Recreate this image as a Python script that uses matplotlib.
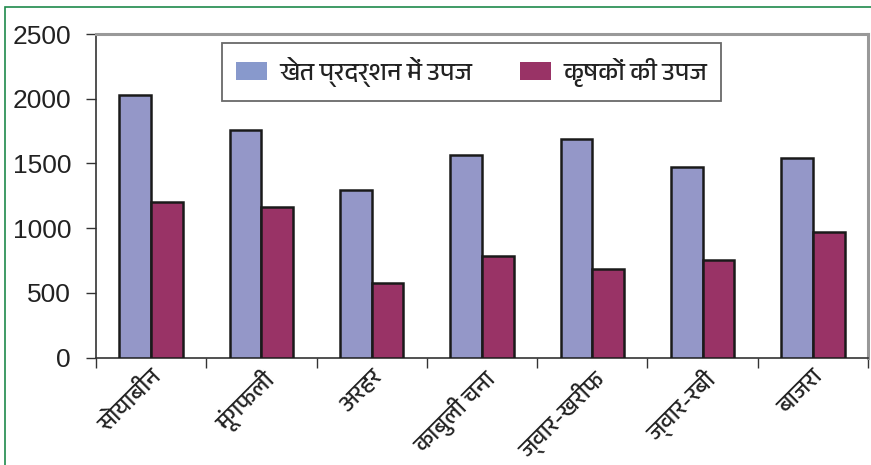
import matplotlib
matplotlib.use("Agg")
import matplotlib.pyplot as plt
from matplotlib import font_manager
from matplotlib.ft2font import FT2Font
from matplotlib.patches import Rectangle
import numpy as np

categories = ["सोयाबीन", "मूंगफली", "अरहर", "काबुली चना", "ज्वार-खरीफ", "ज्वार-रबी", "बाजरा"]
demo_yield = [2030, 1755, 1295, 1565, 1690, 1472, 1542]
farmer_yield = [1202, 1161, 575, 788, 683, 752, 968]
series_names = ["खेत प्रदर्शन में उपज", "कृषकों की उपज"]
yticks = [0, 500, 1000, 1500, 2000, 2500]

# find a font with Devanagari glyphs
deva_family = None
cands = []
for f in font_manager.fontManager.ttflist:
    try:
        ft = FT2Font(f.fname)
        cm = ft.get_charmap()
        if 0x0916 in cm and 0x0930 in cm:
            cands.append(f.name)
    except Exception:
        pass
for c in cands:
    if "Devanagari" in c:
        deva_family = c
        break
if deva_family is None and cands:
    deva_family = cands[0]
fam = ([deva_family] if deva_family else []) + ["Noto Sans", "DejaVu Sans"]

W, H = 871, 465
fig = plt.figure(figsize=(W / 100, H / 100), dpi=100)
fig.patch.set_facecolor("white")

# green frame (top and left visible)
fig.add_artist(Rectangle((5 / W, -0.05), 1.2, (H - 7) / H + 0.05, transform=fig.transFigure,
                         fill=False, edgecolor="#1f8a4c", linewidth=1.2))

left, right, top, bottom = 96, 868, 34, 357.7
ax = fig.add_axes([left / W, (H - bottom) / H, (right - left) / W, (bottom - top) / H])

n = len(categories)
x = np.arange(n) + 0.5
bw = 0.287
ax.bar(x - bw / 2, demo_yield, bw, color="#9497c8", edgecolor="#1a1a1a", linewidth=1.8,
       label=series_names[0], zorder=3)
ax.bar(x + bw / 2, farmer_yield, bw, color="#993366", edgecolor="#1a1a1a", linewidth=1.8,
       label=series_names[1], zorder=3)

ax.set_xlim(0, n)
ax.set_ylim(0, 2500)
ax.set_yticks(yticks)
ax.set_yticklabels([str(v) for v in yticks], fontfamily="Liberation Sans", fontsize=19, color="#222222")
ax.set_xticks(np.arange(n + 1))
ax.set_xticklabels([])
ax.set_xticks(x, minor=True)
ax.set_xticklabels(categories, minor=True, rotation=45, ha="right", va="top",
                   rotation_mode="anchor", fontsize=17, family=fam, color="#222222")
ax.tick_params(axis="x", which="minor", length=0, pad=6)
ax.tick_params(axis="x", which="major", length=7, width=1, color="#333333", direction="out")
ax.tick_params(axis="y", length=7, width=1, color="#333333", direction="out", pad=11)

for s in ["left", "bottom"]:
    ax.spines[s].set_color("#333333")
    ax.spines[s].set_linewidth(1.2)
for s in ["top", "right"]:
    ax.spines[s].set_color("#999999")
    ax.spines[s].set_linewidth(2.2)

leg = ax.legend(loc="upper left", bbox_to_anchor=((222 - left) / (right - left), 1 - (43 - top) / (bottom - top)),
                ncol=2, frameon=True, fancybox=False, edgecolor="#444444",
                prop={"family": fam, "size": 18}, handlelength=1.25, handleheight=0.72,
                handletextpad=0.5, columnspacing=1.9, borderpad=0.55, borderaxespad=0)
leg.get_frame().set_linewidth(1.3)
for h in leg.legend_handles:
    h.set_edgecolor("none")
leg.legend_handles[0].set_facecolor("#8899cc")
for t in leg.get_texts():
    t.set_color("#222222")

fig.savefig("out.png", dpi=100, facecolor="white")
